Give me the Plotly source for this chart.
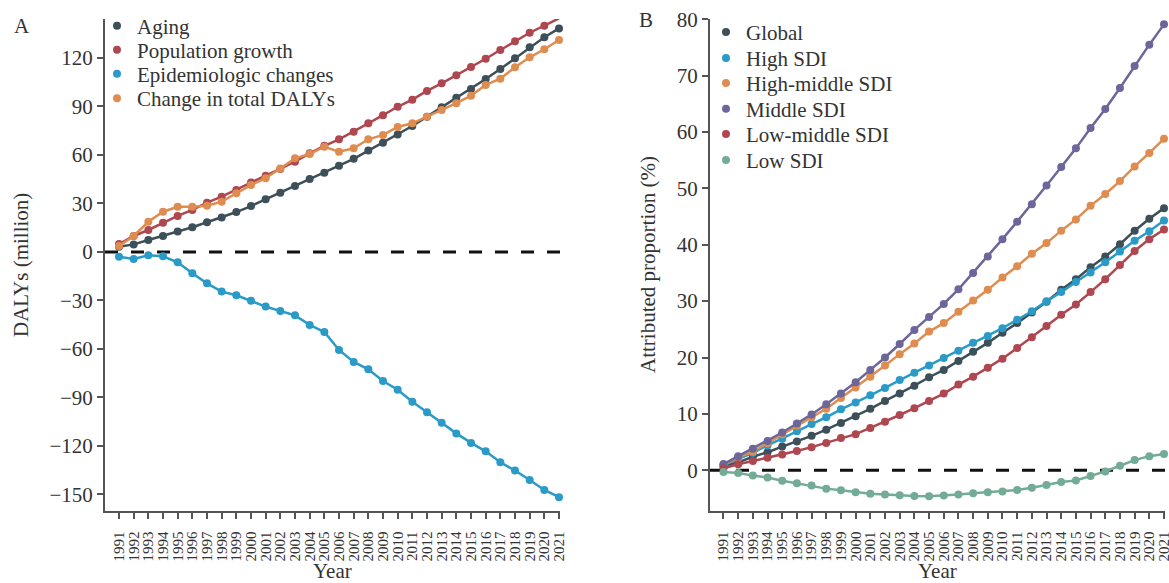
import plotly.graph_objects as go

years = list(range(1991, 2022))

# Panel A: DALYs decomposition (million)
aging = [3.3, 4.7, 7.4, 9.9, 12.6, 15.3, 18.4, 21.4, 24.7, 28.4, 32.6, 36.7, 40.8, 45.1, 49.0, 53.4,
         57.6, 62.7, 67.6, 72.6, 77.9, 83.7, 89.5, 95.4, 100.8, 107.0, 113.2, 119.8, 126.6, 132.8, 138.3]
population_growth = [4.9, 9.9, 13.6, 18.1, 22.3, 26.0, 30.5, 34.2, 38.3, 42.9, 47.2, 51.3, 55.8, 61.0, 65.7,
                     69.7, 74.4, 79.6, 84.6, 89.8, 94.2, 99.6, 104.3, 109.3, 114.4, 119.5, 124.9, 130.3,
                     135.6, 140.0, 144.5]
epidemiologic = [-2.9, -4.3, -2.1, -2.7, -6.4, -13.2, -19.4, -24.5, -26.8, -30.1, -33.8, -36.5, -39.2, -45.1,
                 -49.5, -60.6, -68.0, -72.6, -79.8, -85.2, -92.6, -99.2, -105.7, -112.2, -118.1, -123.3,
                 -130.1, -135.2, -141.0, -147.2, -151.7]
total_change = [3.7, 9.9, 18.7, 24.9, 28.0, 28.0, 28.6, 31.1, 36.3, 41.4, 45.6, 51.7, 57.9, 60.6, 65.1, 62.0,
                64.1, 69.7, 72.4, 77.3, 79.6, 83.7, 87.8, 92.0, 96.7, 103.3, 107.2, 114.2, 120.4, 125.4, 131.1]

# Panel B: attributed proportion (%)
global_sdi = [0.8, 1.4, 2.4, 3.2, 4.2, 5.1, 6.1, 7.2, 8.4, 9.6, 10.9, 12.3, 13.6, 15.0, 16.5, 17.8, 19.4,
              21.0, 22.6, 24.4, 26.1, 28.0, 29.9, 32.0, 33.9, 36.0, 37.9, 40.1, 42.5, 44.6, 46.5]
high_sdi = [0.9, 2.0, 3.1, 4.4, 5.6, 6.9, 8.2, 9.4, 10.8, 12.0, 13.3, 14.6, 16.0, 17.3, 18.6, 19.9, 21.2,
            22.6, 23.8, 25.2, 26.7, 28.2, 30.0, 31.6, 33.4, 35.1, 36.9, 38.8, 40.7, 42.4, 44.3]
high_middle_sdi = [0.9, 2.3, 3.3, 4.8, 6.4, 7.9, 9.4, 10.9, 12.8, 14.7, 16.6, 18.6, 20.6, 22.5, 24.6, 26.1,
                   28.1, 30.1, 32.0, 34.2, 36.2, 38.4, 40.3, 42.5, 44.5, 46.9, 49.0, 51.3, 53.9, 56.3, 58.8]
middle_sdi = [1.1, 2.5, 3.8, 5.2, 6.7, 8.3, 9.9, 11.7, 13.6, 15.6, 17.8, 20.0, 22.4, 24.9, 27.2, 29.5, 32.1,
              35.0, 37.9, 41.0, 44.1, 47.2, 50.5, 53.8, 57.1, 60.7, 64.1, 67.8, 71.7, 75.5, 79.1]
low_middle_sdi = [0.35, 1.07, 1.65, 2.2, 2.8, 3.4, 4.1, 4.85, 5.7, 6.4, 7.5, 8.6, 9.8, 11.0, 12.3, 13.6,
                  15.2, 16.6, 18.2, 19.8, 21.7, 23.6, 25.6, 27.6, 29.4, 31.6, 33.9, 36.4, 38.9, 41.0, 42.7]
low_sdi = [-0.3, -0.5, -0.95, -1.3, -1.85, -2.3, -2.7, -3.26, -3.55, -3.9, -4.15, -4.3, -4.45, -4.55, -4.6,
           -4.5, -4.3, -4.1, -3.9, -3.75, -3.5, -3.1, -2.6, -2.1, -1.8, -1.0, -0.2, 0.8, 1.8, 2.5, 2.9]

names_a = ["Aging", "Population growth", "Epidemiologic changes", "Change in total DALYs"]
series_a = [aging, population_growth, epidemiologic, total_change]
colors_a = ["#3D4F58", "#AE474F", "#2A9BC7", "#DF8C50"]

names_b = ["Global", "High SDI", "High-middle SDI", "Middle SDI", "Low-middle SDI", "Low SDI"]
series_b = [global_sdi, high_sdi, high_middle_sdi, middle_sdi, low_middle_sdi, low_sdi]
colors_b = ["#3D4F58", "#2A9BC7", "#DF8C50", "#6C669A", "#AE474F", "#72AC97"]

yticks_a = [-150, -120, -90, -60, -30, 0, 30, 60, 90, 120]
yticks_b = [0, 10, 20, 30, 40, 50, 60, 70, 80]

W, H = 1169, 583
FONT = "Liberation Serif, Times New Roman, serif"
TXT = "#333333"
AX = "#555555"
FS = 21

def px_x(p):
    return p / W

def px_y(p):
    return (H - p) / H

# plot areas in pixels
A_left, A_right = 105, 560
B_left, B_right = 710, 1165
top_px, bot_px = 19, 510.5

# legend entry centres (pixels): text start x, item centre y
leg_a_x, leg_a_y = 137, [26, 50, 74, 98.5]
leg_b_x, leg_b_y = 746, [32.3, 58.3, 83.3, 109, 134.3, 160.3]

fig = go.Figure()
legend_layout = {}
lid = 0

def next_legend(xpx, ypx):
    global lid
    lid += 1
    key = "legend" if lid == 1 else f"legend{lid}"
    legend_layout[key] = dict(x=px_x(xpx - 40), y=px_y(ypx), xanchor="left", yanchor="middle",
                              bgcolor="rgba(0,0,0,0)", borderwidth=0,
                              font=dict(family=FONT, size=FS, color=TXT), itemwidth=30)
    return key

for name, ys, c in zip(names_a, series_a, colors_a):
    fig.add_trace(go.Scatter(x=years, y=ys, mode="lines+markers", name=name, showlegend=False,
                             line=dict(color=c, width=2.5), marker=dict(color=c, size=8),
                             xaxis="x", yaxis="y", cliponaxis=False))
for name, c, yy in zip(names_a, colors_a, leg_a_y):
    fig.add_trace(go.Scatter(x=[None], y=[None], mode="markers", name=name, legend=next_legend(leg_a_x, yy),
                             marker=dict(color=c, size=8), xaxis="x", yaxis="y"))

for name, ys, c in zip(names_b, series_b, colors_b):
    fig.add_trace(go.Scatter(x=years, y=ys, mode="lines+markers", name=name, showlegend=False,
                             line=dict(color=c, width=2.5), marker=dict(color=c, size=8),
                             xaxis="x2", yaxis="y2", cliponaxis=False))
for name, c, yy in zip(names_b, colors_b, leg_b_y):
    fig.add_trace(go.Scatter(x=[None], y=[None], mode="markers", name=name, legend=next_legend(leg_b_x, yy),
                             marker=dict(color=c, size=8), xaxis="x2", yaxis="y2"))

yA = (-159.9, 144.1)
yB = (-7.14, 80.05)
xA = (1991 - (119 - A_left) / 14.67, 2021 + (A_right - 559) / 14.67)
xB = (1991 - (723.5 - B_left) / 14.7, 2021 + (B_right - 1164) / 14.7)

common_x = dict(showline=True, linecolor=AX, linewidth=2, ticks="outside", ticklen=6, tickwidth=1.5,
                tickcolor=AX, tickangle=-90, tickmode="array", tickvals=years,
                ticktext=[str(y) for y in years], tickfont=dict(family=FONT, size=15, color=TXT),
                showgrid=False, zeroline=False, ticklabelstandoff=7, automargin=False,
                ticklabeloverflow="allow")
common_y = dict(showline=True, linecolor=AX, linewidth=2, ticks="outside", ticklen=6, tickwidth=1.5,
                tickcolor=AX, tickfont=dict(family=FONT, size=FS, color=TXT), showgrid=False,
                zeroline=False, automargin=False, ticklabeloverflow="allow", ticklabelstandoff=0)

dom_y = [px_y(bot_px), px_y(top_px)]

fig.update_layout(
    width=W, height=H,
    margin=dict(l=0, r=0, t=0, b=0, autoexpand=False),
    paper_bgcolor="white", plot_bgcolor="white",
    font=dict(family=FONT, color=TXT),
    xaxis=dict(domain=[px_x(A_left), px_x(A_right)], range=list(xA), anchor="y", **common_x),
    yaxis=dict(domain=dom_y, range=list(yA), anchor="x", tickvals=yticks_a, **common_y),
    xaxis2=dict(domain=[px_x(B_left), px_x(B_right)], range=list(xB), anchor="y2", **common_x),
    yaxis2=dict(domain=dom_y, range=list(yB), anchor="x2", tickvals=yticks_b, **common_y),
    showlegend=True,
    **legend_layout,
)

# dashed zero reference lines (paper coordinates so they can extend slightly past the axis end)
def zero_paper(rng):
    frac = (0 - rng[0]) / (rng[1] - rng[0])
    return dom_y[0] + frac * (dom_y[1] - dom_y[0])

for left, right, rng in [(A_left, 571, yA), (B_left, 1169, yB)]:
    yz = zero_paper(rng)
    fig.add_shape(type="line", xref="paper", yref="paper", x0=px_x(left), x1=px_x(right), y0=yz, y1=yz,
                  line=dict(color="#111111", width=2.8, dash="13px,13px"), layer="below")

annots = [
    dict(text="A", x=px_x(21.5), y=px_y(26.5)),
    dict(text="B", x=px_x(646), y=px_y(20)),
    dict(text="Year", x=px_x((A_left + A_right) / 2), y=px_y(571)),
    dict(text="Year", x=px_x((B_left + B_right) / 2), y=px_y(571)),
    dict(text="DALYs (million)", x=px_x(21), y=px_y(265), angle=-90),
    dict(text="Attributed proportion (%)", x=px_x(648), y=px_y(265), angle=-90),
]
for a in annots:
    fig.add_annotation(text=a["text"], x=a["x"], y=a["y"], xref="paper", yref="paper",
                       xanchor="center", yanchor="middle", showarrow=False,
                       textangle=a.get("angle", 0), font=dict(family=FONT, size=FS, color=TXT))

fig.write_html("out.html", config={"displayModeBar": False},
               post_script="document.body.style.margin='0';")
